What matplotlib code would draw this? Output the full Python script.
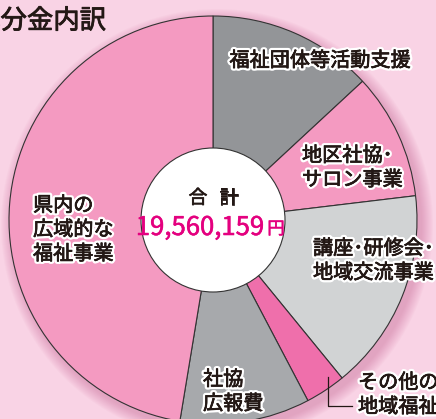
import numpy as np
import matplotlib.pyplot as plt
import matplotlib.patheffects as pe
from matplotlib.patches import Circle

plt.rcParams['font.family'] = ['Noto Sans CJK JP', 'DejaVu Sans']

# data (shares of total)
labels = ['福祉団体等活動支援', '地区社協･\nサロン事業', '講座･研修会･\n地域交流事業',
          'その他の\n地域福祉事業', '社協\n広報費', '県内の\n広域的な\n福祉事業']
shares = [13.1, 10.0, 16.0, 3.2, 10.3, 47.4]
colors = ['#939598', '#f49ac1', '#d1d3d4', '#ef6fab', '#a7a9ac', '#f49ac1']
total_text = '19,560,159'

W, H = 436, 419
fig = plt.figure(figsize=(W / 100, H / 100), dpi=100)
fig.patch.set_facecolor('#f9d3e5')
ax = fig.add_axes([0, 0, 1, 1])

def Y(y):
    return H - y

cx, cy, R, r_in = 213, Y(220), 204, 72

# soft shadow around the pie
for k in range(12, 0, -1):
    ax.add_patch(Circle((cx + 4, cy - 5), R + k, color='#c45a8c', alpha=0.035, lw=0, zorder=1))

ax.pie(shares, colors=colors, startangle=90, counterclock=False, center=(cx, cy), radius=R,
       wedgeprops=dict(edgecolor='#333333', linewidth=0.8), frame=True)
ax.set_xlim(0, W)
ax.set_ylim(0, H)
ax.set_aspect('equal')
ax.axis('off')
ax.add_patch(Circle((cx, cy), r_in, facecolor='white', edgecolor='#333333', lw=0.8, zorder=5))

ink = '#231815'
glow = [pe.withStroke(linewidth=3.8, foreground='white'),
        pe.withStroke(linewidth=0.5, foreground=ink)]
txt = dict(fontsize=14.5, color=ink, path_effects=glow, zorder=6, linespacing=1.2)

ax.text(320, Y(61), labels[0], ha='center', va='center', **txt)
ax.text(302, Y(168), labels[1], ha='left', va='center', **txt)
ax.text(313, Y(261), labels[2], ha='left', va='center', **txt)
ax.text(358, Y(395), labels[3], ha='left', va='center', **txt)
ax.text(203, Y(392), labels[4], ha='left', va='center', **txt)
ax.text(33, Y(230), labels[5], ha='left', va='center', **txt)

# leader line for the small wedge
ax.plot([328, 328, 352], [Y(377), Y(406), Y(406)], color=ink, lw=0.9, zorder=6)

# centre total
bold = [pe.withStroke(linewidth=0.5, foreground=ink)]
ax.text(198, Y(198), '合', ha='center', va='center', fontsize=13.5, color=ink,
        path_effects=bold, zorder=6)
ax.text(229, Y(198), '計', ha='center', va='center', fontsize=13.5, color=ink,
        path_effects=bold, zorder=6)
mag = [pe.withStroke(linewidth=0.4, foreground='#e4007f')]
ax.text(200, Y(228), total_text, ha='center', va='center', fontsize=18.5,
        color='#e4007f', path_effects=mag, zorder=6)
ax.text(276, Y(229), '円', ha='center', va='center', fontsize=12.5,
        color='#e4007f', path_effects=mag, zorder=6)

# title (first character is cut by the frame)
ax.text(106, Y(21), '配分金内訳', ha='right', va='center', fontsize=19, color=ink,
        path_effects=[pe.withStroke(linewidth=0.6, foreground=ink)])

fig.savefig('out.png', dpi=100, facecolor=fig.get_facecolor())
